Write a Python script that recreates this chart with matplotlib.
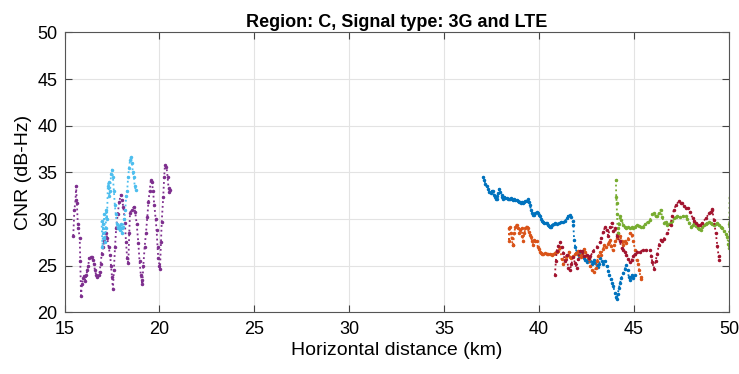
import numpy as np
import matplotlib.pyplot as plt

plt.rcParams['font.family'] = ['Liberation Sans', 'DejaVu Sans']

# purple track (3G)
purple_x = [15.46, 15.52, 15.58, 15.61, 15.65, 15.70, 15.73, 15.80, 15.83, 15.87, 15.92, 15.99,
            16.05, 16.10, 16.15, 16.20, 16.25, 16.30, 16.37, 16.43, 16.50, 16.55, 16.60, 16.67,
            16.73, 16.80, 16.85, 16.90, 16.96, 17.03, 17.10, 17.18, 17.25, 17.32, 17.40, 17.45,
            17.50, 17.55, 17.60, 17.66, 17.72, 17.80, 17.88, 17.96, 18.03, 18.10, 18.18, 18.24,
            18.30, 18.36, 18.41, 18.45, 18.55, 18.65, 18.72, 18.80, 18.89, 18.95, 19.02, 19.06,
            19.10, 19.15, 19.22, 19.29, 19.36, 19.42, 19.48, 19.55, 19.60, 19.66, 19.73, 19.80,
            19.85, 19.90, 19.94, 20.00, 20.03, 20.08, 20.12, 20.20, 20.25, 20.29, 20.37, 20.43,
            20.48, 20.52, 20.55]
purple_y = [28.2, 31.0, 32.0, 33.5, 31.7, 29.5, 29.0, 28.0, 25.5, 21.8, 23.0, 23.7,
            23.9, 23.4, 24.0, 24.5, 25.0, 25.8, 25.9, 25.9, 25.6, 25.2, 24.5, 24.0,
            23.8, 24.0, 24.3, 25.2, 26.3, 27.0, 27.7, 28.5, 28.0, 27.0, 26.2, 25.0,
            23.8, 22.5, 24.5, 27.0, 29.0, 30.5, 31.8, 32.6, 32.0, 31.3, 29.6, 27.5,
            25.8, 25.3, 28.5, 30.7, 31.0, 31.3, 30.8, 29.5, 27.4, 25.5, 24.0, 23.5,
            23.0, 25.0, 27.0, 28.5, 30.2, 31.8, 33.0, 34.2, 34.0, 33.0, 31.5, 30.0,
            28.8, 27.0, 25.8, 25.0, 24.7, 27.5, 29.7, 32.4, 34.5, 35.8, 35.6, 34.5,
            33.3, 32.9, 33.1]

# light blue track
lblue_x = [16.95, 17.00, 17.03, 17.06, 17.10, 17.13, 17.17, 17.20, 17.24, 17.28, 17.32, 17.36,
           17.40, 17.45, 17.50, 17.55, 17.60, 17.65, 17.70, 17.75, 17.80, 17.85, 17.90, 17.95,
           18.00, 18.05, 18.10, 18.15, 18.20, 18.25, 18.30, 18.35, 18.40, 18.45, 18.50, 18.55,
           18.60, 18.65, 18.70, 18.75]
lblue_y = [29.8, 27.0, 29.5, 28.0, 30.5, 27.5, 29.0, 31.0, 30.0, 33.5, 34.0, 32.5,
           33.0, 34.8, 35.3, 34.5, 33.0, 31.5, 30.5, 29.5, 29.0, 29.3, 28.8, 29.5,
           29.0, 28.5, 29.2, 30.0, 31.0, 32.5, 33.0, 34.5, 35.5, 36.3, 36.7, 36.0,
           35.0, 34.5, 33.5, 33.1]

# blue track
blue_x = [37.05, 37.10, 37.17, 37.23, 37.30, 37.37, 37.44, 37.50, 37.55, 37.61, 37.67, 37.72,
          37.76, 37.80, 37.84, 37.90, 37.95, 38.02, 38.06, 38.10, 38.15, 38.20, 38.28, 38.35,
          38.40, 38.46, 38.52, 38.58, 38.63, 38.70, 38.75, 38.81, 38.87, 38.93, 38.99, 39.05,
          39.10, 39.16, 39.22, 39.28, 39.34, 39.40, 39.45, 39.51, 39.57, 39.63, 39.69, 39.75,
          39.80, 39.87, 39.93, 39.98, 40.04, 40.10, 40.16, 40.21, 40.28, 40.34, 40.39, 40.45,
          40.51, 40.57, 40.63, 40.70, 40.76, 40.85, 40.95, 41.05, 41.15, 41.25, 41.36, 41.45,
          41.52, 41.60, 41.68, 41.76, 41.80, 41.84, 41.90, 41.97, 42.03, 42.10, 42.17, 42.24,
          42.30, 42.37, 42.44, 42.50, 42.57, 42.63, 42.70, 42.76, 42.82, 42.88, 42.95, 43.02,
          43.10, 43.16, 43.22, 43.30, 43.38, 43.46, 43.55, 43.64, 43.70, 43.76, 43.83, 43.90,
          43.99, 44.04, 44.08, 44.14, 44.20, 44.25, 44.33, 44.43, 44.52, 44.60, 44.66, 44.72,
          44.78, 44.85, 44.90, 44.96, 45.04]
blue_y = [34.55, 34.2, 33.8, 33.5, 33.2, 32.9, 32.8, 33.0, 33.0, 32.6, 32.4, 32.2,
          32.2, 32.5, 32.8, 33.2, 32.9, 32.6, 32.4, 32.2, 32.4, 32.3, 32.3, 32.2,
          32.1, 32.2, 32.3, 32.1, 32.0, 32.1, 32.0, 32.0, 31.9, 31.8, 31.8, 31.7,
          31.8, 31.7, 31.8, 31.9, 31.9, 32.1, 31.8, 31.5, 31.0, 30.7, 30.45, 30.4,
          30.6, 30.8, 30.6, 30.4, 30.3, 30.0, 29.8, 29.7, 29.6, 29.55, 29.55, 29.4,
          29.3, 29.2, 29.2, 29.4, 29.5, 29.6, 29.5, 29.6, 29.7, 29.7, 29.8, 30.1,
          30.3, 30.45, 30.2, 29.8, 29.4, 27.8, 27.0, 26.5, 26.3, 26.0, 26.2, 26.35,
          26.0, 25.8, 25.6, 25.45, 25.6, 25.8, 25.5, 25.2, 25.4, 25.6, 25.3, 25.1,
          24.9, 25.2, 25.8, 25.5, 25.2, 25.5, 25.0, 24.4, 24.0, 23.6, 23.2, 22.8,
          22.1, 21.6, 21.4, 22.0, 22.6, 23.1, 23.7, 24.2, 24.7, 25.1, 24.5, 23.8,
          23.5, 23.8, 24.0, 23.7, 24.0]

# orange track
orange_x = [38.40, 38.42, 38.45, 38.50, 38.55, 38.60, 38.63, 38.68, 38.75, 38.81, 38.88, 38.95,
            39.00, 39.07, 39.12, 39.16, 39.22, 39.28, 39.34, 39.40, 39.45, 39.51, 39.57, 39.63,
            39.69, 39.75, 39.80, 39.87, 39.93, 39.98, 40.04, 40.10, 40.16, 40.21, 40.30, 40.39,
            40.48, 40.57, 40.65, 40.75, 40.83, 40.92, 41.00, 41.10, 41.18, 41.27, 41.35, 41.42,
            41.50, 41.56, 41.62, 41.70, 41.80, 41.88, 41.96, 42.05, 42.12, 42.20, 42.28, 42.36,
            42.44, 42.52, 42.60, 42.70, 42.80, 42.90, 42.98, 43.05, 43.12, 43.20, 43.28, 43.36,
            43.44, 43.52, 43.60, 43.68, 43.73, 43.80, 43.87, 43.95, 44.02, 44.08, 44.16, 44.25,
            44.34, 44.42, 44.50, 44.60, 44.68, 44.78, 44.87, 44.96, 45.05, 45.13, 45.20, 45.27,
            45.34, 45.38]
orange_y = [29.0, 27.6, 29.2, 28.5, 28.0, 27.2, 27.2, 28.5, 29.2, 29.4, 29.0, 28.5,
            28.8, 29.0, 28.2, 27.6, 28.5, 29.0, 29.2, 29.0, 28.6, 28.3, 28.1, 27.6,
            27.2, 27.8, 27.7, 27.6, 27.0, 26.8, 26.5, 26.4, 26.3, 26.3, 26.4, 26.3,
            26.3, 26.3, 26.2, 26.3, 26.4, 26.5, 26.6, 27.0, 25.7, 25.2, 25.6, 25.9,
            26.1, 26.5, 25.9, 25.8, 26.0, 26.25, 26.4, 26.6, 26.2, 25.9, 26.3, 26.8,
            26.5, 26.0, 25.7, 25.0, 24.5, 24.3, 24.8, 25.5, 26.0, 26.5, 26.2, 26.8,
            27.2, 27.0, 27.3, 27.5, 27.8, 27.1, 26.7, 27.2, 27.6, 28.0, 28.5, 28.2,
            27.7, 27.2, 27.6, 27.4, 27.9, 28.5, 28.3, 27.6, 26.7, 25.6, 25.2, 24.5,
            23.8, 23.6]

# dark red track
dred_x = [40.83, 40.88, 40.92, 41.00, 41.10, 41.18, 41.27, 41.35, 41.44, 41.53, 41.62, 41.70,
          41.80, 41.88, 41.97, 42.05, 42.15, 42.25, 42.35, 42.50, 42.60, 42.70, 42.85, 43.02,
          43.20, 43.28, 43.37, 43.46, 43.55, 43.64, 43.73, 43.82, 43.90, 44.00, 44.10, 44.25,
          44.34, 44.43, 44.52, 44.60, 44.70, 44.78, 44.87, 44.96, 45.05, 45.13, 45.30, 45.48,
          45.65, 45.83, 45.90, 45.96, 46.04, 46.13, 46.22, 46.30, 46.40, 46.48, 46.57, 46.75,
          46.92, 47.00, 47.10, 47.20, 47.36, 47.45, 47.54, 47.63, 47.72, 47.85, 47.95, 48.08,
          48.17, 48.25, 48.37, 48.48, 48.60, 48.78, 48.95, 49.04, 49.08, 49.12, 49.20, 49.30,
          49.39, 49.45, 49.48]
dred_y = [24.0, 25.5, 26.6, 27.1, 27.5, 27.0, 26.4, 25.5, 26.1, 24.8, 24.5, 25.2,
          25.9, 25.3, 24.8, 25.7, 26.6, 26.6, 26.0, 26.1, 25.8, 26.0, 26.6, 27.0,
          27.5, 28.0, 28.6, 29.1, 28.8, 28.2, 29.1, 29.6, 28.7, 29.0, 28.2, 27.6,
          26.9, 26.7, 26.5, 26.2, 25.7, 25.4, 25.6, 26.0, 26.3, 26.5, 26.5, 26.7,
          26.7, 26.7, 26.0, 25.4, 24.7, 25.5, 26.3, 27.2, 27.8, 27.7, 27.9, 28.5,
          29.4, 30.3, 31.0, 31.5, 31.9, 31.7, 31.7, 31.4, 31.2, 31.2, 30.8, 30.1,
          29.8, 29.6, 29.4, 29.4, 29.6, 30.1, 30.6, 30.8, 31.1, 31.0, 29.9, 28.5,
          27.1, 26.0, 25.6]

# green track
green_x = [44.04, 44.06, 44.08, 44.10, 44.13, 44.16, 44.20, 44.25, 44.33, 44.43, 44.52, 44.60,
           44.70, 44.78, 44.87, 44.96, 45.05, 45.13, 45.25, 45.38, 45.48, 45.60, 45.72, 45.83,
           45.96, 46.04, 46.13, 46.22, 46.30, 46.40, 46.48, 46.57, 46.66, 46.75, 46.84, 46.92,
           47.00, 47.10, 47.20, 47.27, 47.40, 47.55, 47.72, 47.80, 47.90, 48.00, 48.08, 48.16,
           48.25, 48.34, 48.42, 48.51, 48.60, 48.70, 48.78, 48.86, 48.95, 49.04, 49.12, 49.21,
           49.30, 49.39, 49.48, 49.56, 49.65, 49.74, 49.83, 49.91, 49.96, 49.99, 50.01, 50.03]
green_y = [34.2, 32.4, 31.7, 30.5, 29.0, 28.5, 29.5, 30.3, 29.9, 29.4, 29.2, 29.0,
           29.1, 29.0, 29.2, 29.0, 29.1, 29.4, 29.3, 29.2, 29.2, 29.5, 29.7, 29.9,
           30.5, 30.6, 30.3, 30.3, 30.6, 31.0, 30.2, 29.6, 29.7, 29.4, 29.5, 29.7,
           29.8, 30.1, 30.2, 30.3, 30.2, 30.3, 30.3, 30.0, 29.6, 29.2, 29.4, 29.6,
           29.3, 29.0, 28.9, 28.8, 29.1, 29.4, 29.5, 29.6, 29.7, 29.6, 29.5, 29.4,
           29.5, 29.6, 29.4, 29.2, 29.0, 28.7, 28.4, 28.1, 27.3, 26.9, 29.5, 32.4]

tracks = [
    (blue_x, blue_y, '#0072BD'),
    (orange_x, orange_y, '#D95319'),
    (purple_x, purple_y, '#7E2F8E'),
    (green_x, green_y, '#77AC30'),
    (lblue_x, lblue_y, '#4DBEEE'),
    (dred_x, dred_y, '#A2142F'),
]

fig = plt.figure(figsize=(7.39, 3.74), dpi=100)
ax = fig.add_axes([0.0873, 0.1647, 0.8992, 0.7487])

for x, y, c in tracks:
    ax.plot(x, y, linestyle=':', marker='.', markersize=3, linewidth=1.3, color=c)

ax.set_xlim(15, 50)
ax.set_ylim(20, 50)
ax.set_xticks(np.arange(15, 51, 5))
ax.set_yticks(np.arange(20, 51, 5))
ax.grid(True, color='#e3e3e3', linewidth=0.8)
ax.set_axisbelow(True)
ax.tick_params(direction='in', top=True, right=True, labelsize=13, length=5,
               color='#444444')
ax.tick_params(axis='x', pad=6)
ax.tick_params(axis='y', pad=5)
for s in ax.spines.values():
    s.set_color('#555555')
    s.set_linewidth(0.8)

ax.set_xlabel('Horizontal distance (km)', fontsize=14, labelpad=3)
ax.set_ylabel('CNR (dB-Hz)', fontsize=14, labelpad=4)
ax.set_title('Region: C, Signal type: 3G and LTE', fontsize=13, fontweight='bold', pad=4)

fig.savefig('out.png', dpi=100)
